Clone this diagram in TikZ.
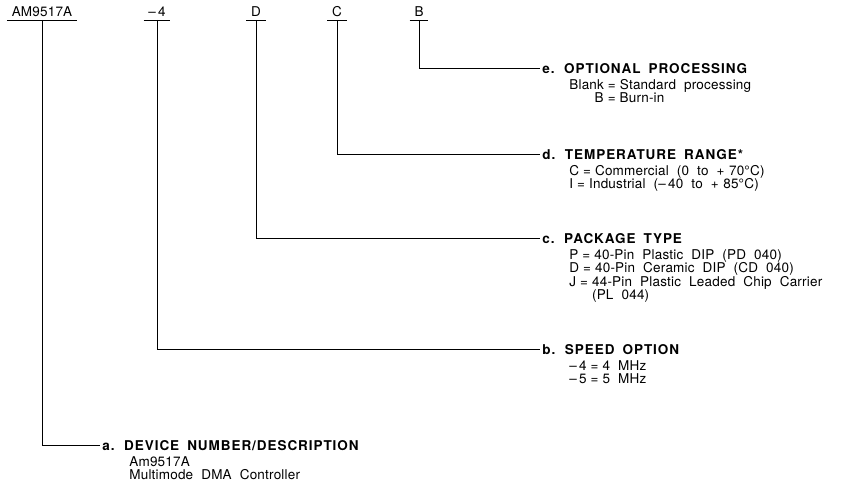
\documentclass[tikz,border=0pt]{standalone}
\usepackage{fontspec}
\setmainfont{TeX Gyre Heros}
\usetikzlibrary{positioning}

% wide word spaces, tight spaces round the equals sign
\newcommand{\ordfont}{\fontsize{13.5}{13.5}\selectfont\addfontfeature{LetterSpace=1.5}%
  \setlength{\spaceskip}{0.6em plus 0.1em}}
\newcommand{\headfont}{\fontsize{13.5}{13.5}\selectfont\bfseries\addfontfeature{LetterSpace=7}%
  \setlength{\spaceskip}{0.6em plus 0.1em}}
\newcommand{\iseq}{\hspace{0.3em}=\hspace{0.3em}}

\begin{document}
\begin{tikzpicture}[x=1pt, y=-1pt, line width=0.7pt, font=\ordfont,
  partlabel/.style={anchor=base, inner xsep=4.5pt, inner ysep=3.5pt, text depth=0pt},
  headline/.style={anchor=west, inner xsep=2pt, inner ysep=0pt, text depth=0pt,
    font=\headfont},
  itemlist/.style={anchor=north west, inner sep=0pt, align=left}]
  \useasboundingbox (0,0) rectangle (845,488);

  % ordering code parts
  \node[partlabel] (partA) at (42,16)  {AM9517A};
  \node[partlabel] (partB) at (157,16) {--\,4};
  \node[partlabel] (partC) at (256,16) {D};
  \node[partlabel] (partD) at (337,16) {C};
  \node[partlabel] (partE) at (419,16) {B};
  \foreach \p in {A,B,C,D,E}
    \draw (part\p.south west) -- (part\p.south east);

  % option headings
  \node[headline] (headE) at (540,68)  {e. OPTIONAL PROCESSING};
  \node[headline] (headD) at (540,154) {d. TEMPERATURE RANGE*};
  \node[headline] (headC) at (540,238) {c. PACKAGE TYPE};
  \node[headline] (headB) at (540,349) {b. SPEED OPTION};
  \node[headline] (headA) at (100,445) {a. DEVICE NUMBER/DESCRIPTION};

  % option values
  \node[itemlist] (itemsE) at ([xshift=29pt, yshift=-5.5pt]headE.south west)
  {Blank\iseq Standard processing\\ \hphantom{lank}B\iseq Burn-in};
  \node[itemlist] (itemsD) at ([xshift=29pt, yshift=-5.5pt]headD.south west)
  {C\iseq Commercial (0 to +\,\,70°C)\\ I\iseq Industrial (--\,40 to +\,\,85°C)};
  \node[itemlist] (itemsC) at ([xshift=29pt, yshift=-5.5pt]headC.south west)
  {P\iseq 40-Pin Plastic DIP (PD 040)\\ D\iseq 40-Pin Ceramic DIP (CD 040)\\
   J\iseq 44-Pin Plastic Leaded Chip Carrier\\ \hphantom{J\iseq}(PL 044)};
  \node[itemlist] (itemsB) at ([xshift=29pt, yshift=-5.5pt]headB.south west)
  {--\,4\iseq 4 MHz\\ --\,5\iseq 5 MHz};
  \node[itemlist] (itemsA) at ([xshift=29pt, yshift=-5.5pt]headA.south west)
  {Am9517A\\ Multimode DMA Controller};

  % connectors
  \draw (partE.south) |- (headE.west);
  \draw (partD.south) |- (headD.west);
  \draw (partC.south) |- (headC.west);
  \draw (partB.south) |- (headB.west);
  \draw (partA.south) |- (headA.west);
\end{tikzpicture}
\end{document}
